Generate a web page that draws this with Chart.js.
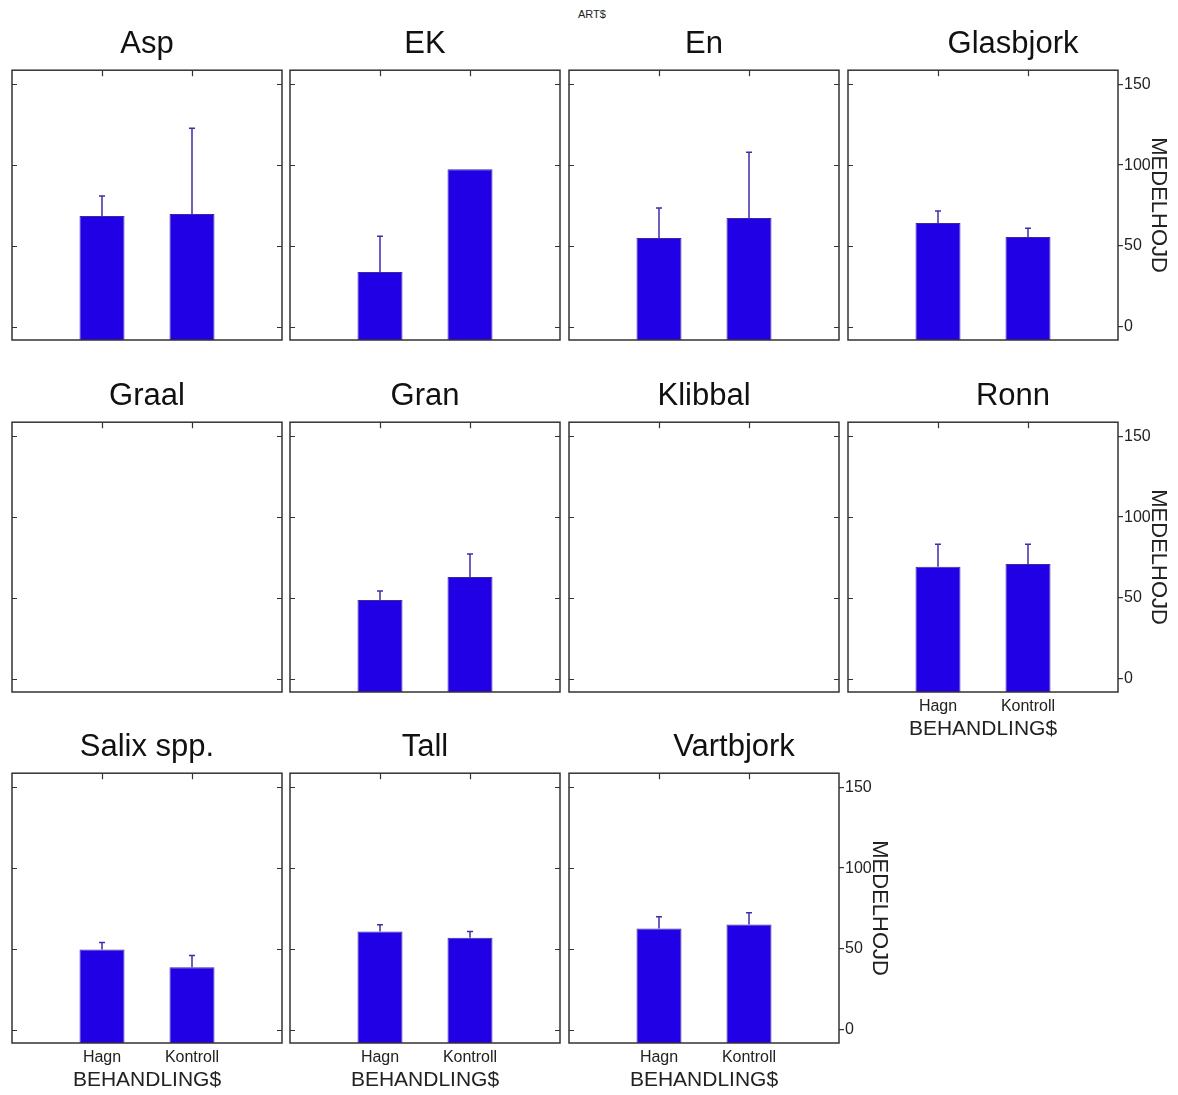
<!DOCTYPE html>
<html>
<head>
<meta charset="utf-8">
<script src="https://cdn.jsdelivr.net/npm/chart.js@4.4.1/dist/chart.umd.min.js"></script>
<style>
  body { margin: 0; background: #fff; }
  #wrap { position: relative; width: 1178px; height: 1095px; }
  #wrap canvas { position: absolute; }
  #top { position: absolute; left: 0; width: 1184px; top: 8px; text-align: center;
         font: 11px "Liberation Sans", Arial, sans-serif; color: #222; }
</style>
</head>
<body>
<div id="wrap">
  <div id="top">ART$</div>
</div>
<script>
// ART$ panels, mean MEDELHOJD per BEHANDLING$, error bar = upper whisker length
const species = ['Asp', 'EK', 'En', 'Glasbjork', 'Graal', 'Gran', 'Klibbal', 'Ronn', 'Salix spp.', 'Tall', 'Vartbjork'];
const categories = ['Hagn', 'Kontroll'];
const hagnMean     = [68.5, 34,   55,   64.2, null, 48.8, null, 69.3, 49.8, 60.8, 62.7];
const kontrollMean = [69.8, 97.5, 67.3, 55.6, null, 63,   null, 71,   38.7, 57,   65.2];
const hagnErr      = [12.4, 22,   18.5, 7.4,  null, 5.5,  null, 14,   4.2,  4.2,  7.3];
const kontrollErr  = [53,   null, 40.7, 5.4,  null, 14.2, null, 12.3, 7.3,  3.8,  7.3];
const yTicks = [0, 50, 100, 150];
const Y_MIN = -8, Y_MAX = 158.6;

const FONT = '"Liberation Sans", Arial, sans-serif';
const BAR_FILL = '#2200e6';
const BAR_EDGE = '#3a2a9e';
const ERR_COLOR = '#3c2fa8';
const FRAME = '#333';

// panel box geometry
const colX = [12, 290, 569, 848];
const rowY = [70, 422, 773];
const BOX = 270;

const panelFrame = {
  id: 'panelFrame',
  afterDraw(chart) {
    const {ctx, chartArea: a, scales: {x, y}} = chart;
    const right = chart.options.plugins.panelFrame.rightAxis;
    ctx.save();
    ctx.strokeStyle = FRAME;
    ctx.lineWidth = 1.5;
    ctx.strokeRect(a.left, a.top, a.right - a.left, a.bottom - a.top);
    ctx.lineWidth = 1.2;
    ctx.beginPath();
    yTicks.forEach(v => {
      const py = Math.round(y.getPixelForValue(v)) + 0.5;
      ctx.moveTo(a.left, py); ctx.lineTo(a.left + 5, py);
      if (!right) { ctx.moveTo(a.right - 5, py); ctx.lineTo(a.right, py); }
    });
    [1, 2].forEach(i => {
      const px = Math.round(x.getPixelForValue(i)) + 0.5;
      ctx.moveTo(px, a.top); ctx.lineTo(px, a.top + 6);
    });
    ctx.stroke();
    ctx.restore();
  }
};

const errorBars = {
  id: 'errorBars',
  afterDatasetsDraw(chart) {
    const errs = chart.options.plugins.errorBars.values;
    const {ctx, scales: {y}} = chart;
    const meta = chart.getDatasetMeta(0);
    ctx.save();
    ctx.strokeStyle = ERR_COLOR;
    ctx.lineWidth = 1.5;
    meta.data.forEach((bar, i) => {
      const v = chart.data.datasets[0].data[i];
      if (v == null || errs[i] == null) return;
      const top = y.getPixelForValue(v + errs[i]);
      ctx.beginPath();
      ctx.moveTo(bar.x, bar.y);
      ctx.lineTo(bar.x, top);
      ctx.moveTo(bar.x - 3, top);
      ctx.lineTo(bar.x + 3, top);
      ctx.stroke();
    });
    ctx.restore();
  }
};

const wrap = document.getElementById('wrap');

species.forEach((name, i) => {
  const row = Math.floor(i / 4), col = i % 4;
  const rightAxis = col === 3 || i === species.length - 1;
  const xLabels = i + 4 >= species.length;
  const bottomPad = xLabels ? 0 : (rightAxis ? 14 : 3);

  const canvas = document.createElement('canvas');
  canvas.width = 3 + BOX + (rightAxis ? 60 : 3);
  canvas.height = 60 + BOX + (xLabels ? 52 : bottomPad);
  canvas.style.left = (colX[col] - 3) + 'px';
  canvas.style.top = (rowY[row] - 60) + 'px';
  wrap.appendChild(canvas);

  new Chart(canvas, {
    type: 'bar',
    data: {
      labels: ['', ...categories, ''],
      datasets: [{
        data: [null, hagnMean[i], kontrollMean[i], null],
        backgroundColor: BAR_FILL,
        borderColor: BAR_EDGE,
        borderWidth: 1,
        base: Y_MIN,
        categoryPercentage: 1,
        barPercentage: 0.5
      }]
    },
    options: {
      responsive: false,
      animation: false,
      events: [],
      layout: { padding: { left: 3, right: rightAxis ? 0 : 3, top: 0, bottom: bottomPad } },
      plugins: {
        legend: { display: false },
        tooltip: { enabled: false },
        title: {
          display: true, text: name, color: '#111',
          font: { family: FONT, size: 31, weight: 'normal' },
          padding: { top: 16, bottom: 7 }
        },
        panelFrame: { rightAxis },
        errorBars: { values: [null, hagnErr[i], kontrollErr[i], null] }
      },
      scales: {
        x: {
          type: 'category',
          offset: false,
          display: xLabels,
          grid: { display: false },
          border: { display: false },
          ticks: { color: '#222', font: { family: FONT, size: 16 }, padding: -3, autoSkip: false, maxRotation: 0 },
          title: {
            display: true, text: 'BEHANDLING$', color: '#222',
            font: { family: FONT, size: 21 }, padding: { top: 0, bottom: 2 }
          },
          afterFit: s => { if (xLabels) s.height = 52; }
        },
        y: {
          position: 'right',
          min: Y_MIN, max: Y_MAX,
          display: rightAxis,
          afterBuildTicks: s => { s.ticks = yTicks.map(v => ({ value: v })); },
          grid: { drawOnChartArea: false, tickLength: 5, color: FRAME, lineWidth: 1.2 },
          border: { display: false },
          ticks: { color: '#222', font: { family: FONT, size: 16 }, padding: 1 },
          title: {
            display: true, text: 'MEDELHOJD', color: '#222',
            font: { family: FONT, size: 22 }, padding: { top: 7, bottom: 0 }
          },
          afterFit: s => { if (rightAxis) s.width = 60; }
        }
      }
    },
    plugins: [panelFrame, errorBars]
  });
});
</script>
</body>
</html>
